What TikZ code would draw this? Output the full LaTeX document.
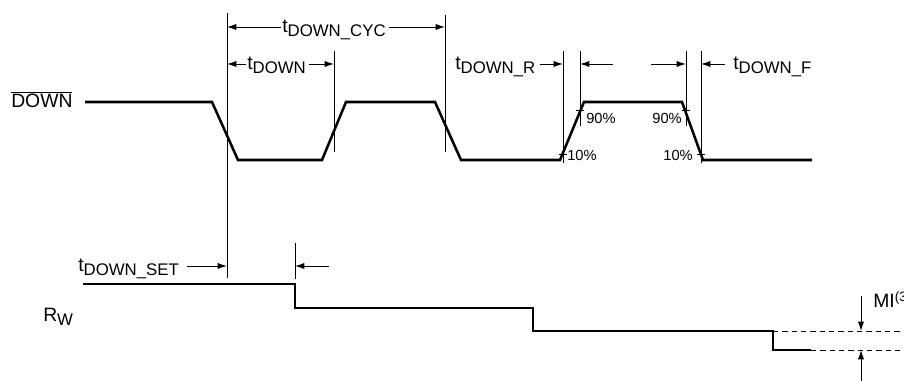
\documentclass[tikz,border=0pt]{standalone}
\usepackage{fontspec}
\setmainfont{Liberation Sans}
\usetikzlibrary{arrows.meta}

\newcommand{\tlabel}[1]{t\raisebox{-3pt}{\fontsize{12.6}{13}\selectfont #1}}

\begin{document}
\begin{tikzpicture}[x=0.75pt,y=-0.75pt,
    signal/.style={line width=1.9pt},
    guide/.style={line width=0.7pt},
    dim/.style={line width=0.7pt,-{Latex[length=7pt,width=4.6pt]}},
    lbl/.style={font=\fontsize{14.5}{16}\selectfont,inner sep=0pt},
    tlbl/.style={lbl,text height=10pt,text depth=1pt},
    pct/.style={font=\fontsize{11}{12}\selectfont,inner sep=0pt}]
  \useasboundingbox (0,0) rectangle (904,381);

  % DOWN input
  \node[lbl,anchor=base west] (down) at (11,108) {$\overline{\mbox{DOWN}}$};
  \draw[signal] (85,102) -- (212,102) -- (238,160) -- (322,160) -- (346,102) -- (435,102)
    -- (461,160) -- (560,160) -- (584,102) -- (682,102) -- (703,160) -- (812,160);

  % guide lines
  \foreach \n/\x/\a/\b in {g1/227/13/278, g2/334/51/152, g3/445/15/152, g4/563/51/163,
      g5/580/51/126, g6/686/51/126, g7/701/51/163, g8/295/243/279}{
    \coordinate (\n) at (\x,\a);
    \draw[guide] (\x,\a) -- (\x,\b);
  }

  % timing labels
  \node[tlbl,anchor=west] (tcyc) at (282,27) {\tlabel{DOWN\_CYC}};
  \draw[dim] ([xshift=-1]tcyc.west) -- (tcyc.west -| g1);
  \draw[dim] ([xshift=2]tcyc.east) -- (tcyc.east -| g3);

  \node[tlbl,anchor=west] (tdown) at (247,64) {\tlabel{DOWN}};
  \draw[dim] ([xshift=-1]tdown.west) -- (tdown.west -| g1);
  \draw[dim] ([xshift=2]tdown.east) -- (tdown.east -| g2);

  \node[tlbl,anchor=west] (tr) at (455,64) {\tlabel{DOWN\_R}};
  \draw[dim] ([xshift=3]tr.east) -- (tr.east -| g4);

  \coordinate (a5) at (613,64);
  \coordinate (a6) at (651,64);
  \draw[dim] (a5) -- (a5 -| g5);
  \draw[dim] (a6) -- (a6 -| g6);

  \node[tlbl,anchor=west] (tf) at (733,64) {\tlabel{DOWN\_F}};
  \draw[dim] ([xshift=-6]tf.west) -- (tf.west -| g7);

  % 10% / 90% points
  \foreach \x/\y in {580/110, 686/110, 563/154, 701/154}
    \draw[guide] (\x-4,\y) -- (\x+4,\y);
  \node[pct,anchor=west] (r90) at (586,118) {90\%};
  \node[pct,anchor=east] (f90) at (682,118) {90\%};
  \node[pct,anchor=west] (r10) at (567,155) {10\%};
  \node[pct,anchor=east] (f10) at (693,155) {10\%};

  % wiper resistance
  \node[lbl,anchor=base west] (rw) at (43,321) {R\raisebox{-3pt}{\fontsize{12.6}{13}\selectfont W}};
  \draw[signal] (83,284) -| (295,308) -| (533,331) -| (773,350) -- (811,350);
  \draw[guide,dash pattern=on 4pt off 3pt] (773,331) -- (904,331);
  \draw[guide,dash pattern=on 4pt off 3pt] (811,350) -- (904,350);

  \node[tlbl,anchor=west] (tset) at (78,266) {\tlabel{DOWN\_SET}};
  \draw[dim] ([xshift=6]tset.east) -- (tset.east -| g1);
  \coordinate (a8) at (329,266);
  \draw[dim] (a8) -- (a8 -| g8);

  % MI step
  \node[lbl,anchor=base west] (mi) at (873,308) {MI\textsuperscript{(3)}};
  \coordinate (m1) at (861,296);
  \coordinate (m2) at (861,381);
  \draw[dim] (m1) -- (861,331);
  \draw[dim] (m2) -- (861,350);
\end{tikzpicture}
\end{document}
